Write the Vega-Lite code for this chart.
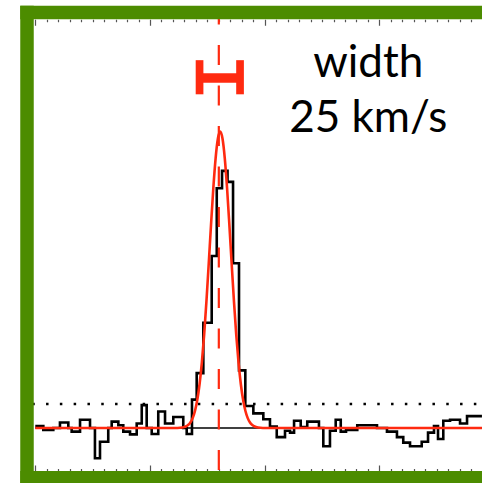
{
  "$schema": "https://vega.github.io/schema/vega-lite/v6.json",
  "width": 455,
  "height": 465.25,
  "autosize": {"type": "none"},
  "padding": {"left": 27, "top": 12.5, "right": 0, "bottom": 5.25},
  "background": "white",
  "view": {"stroke": null, "fill": "white"},
  "config": {
    "axis": {"labels": false, "title": null, "grid": false}
  },
  "datasets": {
    "spectrum": [
      {"velocity": 0.0, "flux": 0.02},
      {"velocity": 7.0, "flux": -0.02},
      {"velocity": 15.7, "flux": 0.0},
      {"velocity": 21.5, "flux": 0.06},
      {"velocity": 28.8, "flux": 0.0},
      {"velocity": 31.7, "flux": -0.04},
      {"velocity": 39.0, "flux": 0.09},
      {"velocity": 47.7, "flux": 0.0},
      {"velocity": 52.0, "flux": -0.33},
      {"velocity": 56.4, "flux": -0.15},
      {"velocity": 63.6, "flux": 0.0},
      {"velocity": 66.6, "flux": 0.07},
      {"velocity": 72.4, "flux": 0.03},
      {"velocity": 76.7, "flux": -0.04},
      {"velocity": 82.6, "flux": -0.07},
      {"velocity": 88.4, "flux": 0.05},
      {"velocity": 92.8, "flux": 0.25},
      {"velocity": 97.1, "flux": 0.0},
      {"velocity": 101.5, "flux": -0.065},
      {"velocity": 107.2, "flux": 0.18},
      {"velocity": 113.1, "flux": 0.05},
      {"velocity": 120.3, "flux": 0.12},
      {"velocity": 129.0, "flux": 0.0},
      {"velocity": 132.0, "flux": -0.065},
      {"velocity": 136.6, "flux": 0.31},
      {"velocity": 140.7, "flux": 0.6},
      {"velocity": 146.5, "flux": 1.15},
      {"velocity": 153.8, "flux": 1.88},
      {"velocity": 158.2, "flux": 2.62},
      {"velocity": 162.8, "flux": 2.81},
      {"velocity": 167.6, "flux": 2.69},
      {"velocity": 172.4, "flux": 1.8},
      {"velocity": 177.6, "flux": 0.63},
      {"velocity": 183.1, "flux": 0.24},
      {"velocity": 190.1, "flux": 0.16},
      {"velocity": 198.8, "flux": 0.095},
      {"velocity": 204.6, "flux": 0.015},
      {"velocity": 210.5, "flux": -0.1},
      {"velocity": 217.7, "flux": -0.03},
      {"velocity": 222.1, "flux": -0.05},
      {"velocity": 225.6, "flux": 0.08},
      {"velocity": 231.4, "flux": 0.01},
      {"velocity": 237.1, "flux": 0.07},
      {"velocity": 247.3, "flux": 0.0},
      {"velocity": 251.1, "flux": -0.2},
      {"velocity": 256.9, "flux": -0.03},
      {"velocity": 261.9, "flux": 0.09},
      {"velocity": 266.3, "flux": -0.04},
      {"velocity": 270.9, "flux": -0.02},
      {"velocity": 280.7, "flux": 0.03},
      {"velocity": 297.9, "flux": 0.0},
      {"velocity": 306.6, "flux": -0.04},
      {"velocity": 315.3, "flux": -0.1},
      {"velocity": 320.8, "flux": -0.16},
      {"velocity": 326.7, "flux": -0.2},
      {"velocity": 336.9, "flux": -0.15},
      {"velocity": 342.4, "flux": -0.05},
      {"velocity": 347.6, "flux": 0.02},
      {"velocity": 351.1, "flux": -0.12},
      {"velocity": 355.7, "flux": 0.08},
      {"velocity": 361.6, "flux": 0.09},
      {"velocity": 370.3, "flux": 0.05},
      {"velocity": 376.4, "flux": 0.13},
      {"velocity": 389.4, "flux": 0.13}
    ],
    "fit": [
      {"velocity": 0, "flux": 0},
      {"velocity": 124, "flux": 0},
      {"velocity": 128.2, "flux": 0.005},
      {"velocity": 131.2, "flux": 0.016},
      {"velocity": 133.2, "flux": 0.032},
      {"velocity": 135.2, "flux": 0.06},
      {"velocity": 137.2, "flux": 0.108},
      {"velocity": 139.2, "flux": 0.186},
      {"velocity": 141.2, "flux": 0.305},
      {"velocity": 143.2, "flux": 0.478},
      {"velocity": 145.2, "flux": 0.714},
      {"velocity": 147.2, "flux": 1.018},
      {"velocity": 149.2, "flux": 1.384},
      {"velocity": 151.2, "flux": 1.795},
      {"velocity": 153.2, "flux": 2.22},
      {"velocity": 155.2, "flux": 2.62},
      {"velocity": 157.2, "flux": 2.948},
      {"velocity": 159.2, "flux": 3.164},
      {"velocity": 161.2, "flux": 3.24},
      {"velocity": 163.2, "flux": 3.164},
      {"velocity": 165.2, "flux": 2.948},
      {"velocity": 167.2, "flux": 2.62},
      {"velocity": 169.2, "flux": 2.22},
      {"velocity": 171.2, "flux": 1.795},
      {"velocity": 173.2, "flux": 1.384},
      {"velocity": 175.2, "flux": 1.018},
      {"velocity": 177.2, "flux": 0.714},
      {"velocity": 179.2, "flux": 0.478},
      {"velocity": 181.2, "flux": 0.305},
      {"velocity": 183.2, "flux": 0.186},
      {"velocity": 185.2, "flux": 0.108},
      {"velocity": 187.2, "flux": 0.06},
      {"velocity": 189.2, "flux": 0.032},
      {"velocity": 191.2, "flux": 0.016},
      {"velocity": 194.2, "flux": 0.005},
      {"velocity": 198.4, "flux": 0},
      {"velocity": 389.4, "flux": 0}
    ],
    "levels": [
      {"name": "zero", "flux": 0, "start": 0, "end": 389.4}
    ],
    "threshold": [{"flux": 0.262}],
    "center": [{"velocity": 160.0}],
    "caps": [
      {"velocity": 143.2, "top": 4.02, "bottom": 3.647},
      {"velocity": 178.5, "top": 4.02, "bottom": 3.647}
    ],
    "bar": [{"lo": 143.2, "hi": 178.5, "flux": 3.825}],
    "labels": [
      {"text": "width", "velocity": 290.3, "flux": 3.839},
      {"text": "25 km/s", "velocity": 290.3, "flux": 3.238}
    ],
    "frame": [{"name": "panel"}]
  },
  "layer": [
    {
      "data": {"name": "levels"},
      "mark": {"type": "rule", "color": "black", "strokeWidth": 1.5},
      "encoding": {
        "x": {"field": "start", "type": "quantitative", "scale": {"domain": [-7.236, 389.45], "nice": false, "zero": false}, "axis": null},
        "x2": {"field": "end"},
        "y": {"field": "flux", "type": "quantitative", "scale": {"domain": [-0.5437, 4.541], "nice": false, "zero": false}, "axis": null}
      }
    },
    {
      "data": {"name": "threshold"},
      "mark": {"type": "rule", "color": "black", "strokeWidth": 2.5, "strokeDash": [2.5, 11.3], "strokeDashOffset": 8.15},
      "encoding": {
        "y": {"field": "flux", "type": "quantitative", "scale": {"domain": [-0.5437, 4.541], "nice": false, "zero": false}, "axis": null}
      }
    },
    {
      "data": {"name": "spectrum"},
      "mark": {"type": "line", "interpolate": "step-after", "color": "black", "strokeWidth": 2.6},
      "encoding": {
        "x": {
          "field": "velocity", "type": "quantitative",
          "scale": {"domain": [-7.236, 389.45], "nice": false, "zero": false},
          "axis": {
            "orient": "bottom", "offset": -6.75, "domain": false, "labels": false, "title": null,
            "values": [0,10,20,30,40,50,60,70,80,90,100,110,120,130,140,150,160,170,180,190,200,210,220,230,240,250,260,270,280,290,300,310,320,330,340,350,360,370,380],
            "tickColor": "#555", "tickWidth": 1.2,
            "tickSize": {"condition": {"test": "datum.value % 100 === 0", "value": -6}, "value": -2.5}
          }
        },
        "y": {
          "field": "flux", "type": "quantitative",
          "scale": {"domain": [-0.5437, 4.541], "nice": false, "zero": false},
          "axis": {
            "orient": "left", "offset": -7.5, "domain": true, "domainColor": "#333", "domainWidth": 1.2, "labels": false, "title": null,
            "values": [-0.5,-0.4,-0.3,-0.2,-0.1,0,0.1,0.2,0.3,0.4,0.5,0.6,0.7,0.8,0.9,1,1.1,1.2,1.3,1.4,1.5,1.6,1.7,1.8,1.9,2,2.1,2.2,2.3,2.4,2.5,2.6,2.7,2.8,2.9,3,3.1,3.2,3.3,3.4,3.5,3.6,3.7,3.8,3.9,4,4.1,4.2,4.3,4.4,4.5],
            "tickColor": "#444", "tickWidth": 1.1,
            "tickSize": {"condition": {"test": "abs(datum.value - round(datum.value)) < 0.001", "value": -10}, "value": -5}
          }
        }
      }
    },
    {
      "data": {"name": "fit"},
      "mark": {"type": "line", "interpolate": "monotone", "color": "#ff2a10", "strokeWidth": 2.6},
      "encoding": {
        "x": {
          "field": "velocity", "type": "quantitative",
          "scale": {"domain": [-7.236, 389.45], "nice": false, "zero": false},
          "axis": {
            "orient": "top", "offset": -6.75, "domain": false, "labels": false, "title": null,
            "values": [0,10,20,30,40,50,60,70,80,90,100,110,120,130,140,150,160,170,180,190,200,210,220,230,240,250,260,270,280,290,300,310,320,330,340,350,360,370,380],
            "tickColor": "#555", "tickWidth": 1.2,
            "tickSize": {"condition": {"test": "datum.value % 100 === 0", "value": -6}, "value": -2.5}
          }
        },
        "y": {"field": "flux", "type": "quantitative", "scale": {"domain": [-0.5437, 4.541], "nice": false, "zero": false}, "axis": null}
      }
    },
    {
      "data": {"name": "center"},
      "mark": {"type": "rule", "color": "#ff2a10", "strokeWidth": 2.2, "strokeDash": [20, 20.5], "strokeDashOffset": 8},
      "encoding": {
        "x": {"field": "velocity", "type": "quantitative", "scale": {"domain": [-7.236, 389.45], "nice": false, "zero": false}, "axis": null}
      }
    },
    {
      "data": {"name": "caps"},
      "mark": {"type": "rule", "color": "#ff2a10", "strokeWidth": 7.7, "strokeCap": "butt"},
      "encoding": {
        "x": {"field": "velocity", "type": "quantitative", "scale": {"domain": [-7.236, 389.45], "nice": false, "zero": false}, "axis": null},
        "y": {"field": "top", "type": "quantitative", "scale": {"domain": [-0.5437, 4.541], "nice": false, "zero": false}, "axis": null},
        "y2": {"field": "bottom"}
      }
    },
    {
      "data": {"name": "bar"},
      "mark": {"type": "rule", "color": "#ff2a10", "strokeWidth": 9.5, "strokeCap": "butt"},
      "encoding": {
        "x": {"field": "lo", "type": "quantitative", "scale": {"domain": [-7.236, 389.45], "nice": false, "zero": false}, "axis": null},
        "x2": {"field": "hi"},
        "y": {"field": "flux", "type": "quantitative", "scale": {"domain": [-0.5437, 4.541], "nice": false, "zero": false}, "axis": null}
      }
    },
    {
      "data": {"name": "labels"},
      "mark": {"type": "text", "font": "Lato", "fontSize": 44, "color": "black", "align": "center", "baseline": "alphabetic"},
      "encoding": {
        "x": {"field": "velocity", "type": "quantitative", "scale": {"domain": [-7.236, 389.45], "nice": false, "zero": false}, "axis": null},
        "y": {"field": "flux", "type": "quantitative", "scale": {"domain": [-0.5437, 4.541], "nice": false, "zero": false}, "axis": null},
        "text": {"field": "text"}
      }
    },
    {
      "data": {"name": "frame"},
      "mark": {"type": "rule", "color": "#4c8c00", "strokeWidth": 13.5, "strokeCap": "square", "clip": false},
      "encoding": {
        "y": {"datum": 4.541, "type": "quantitative", "scale": {"domain": [-0.5437, 4.541], "nice": false, "zero": false}, "axis": null}
      }
    },
    {
      "data": {"name": "frame"},
      "mark": {"type": "rule", "color": "#4c8c00", "strokeWidth": 13.5, "strokeCap": "square", "clip": false},
      "encoding": {
        "y": {"datum": -0.5437, "type": "quantitative", "scale": {"domain": [-0.5437, 4.541], "nice": false, "zero": false}, "axis": null}
      }
    },
    {
      "data": {"name": "frame"},
      "mark": {"type": "rule", "color": "#4c8c00", "strokeWidth": 13.5, "strokeCap": "square", "clip": false},
      "encoding": {
        "x": {"datum": -7.236, "type": "quantitative", "scale": {"domain": [-7.236, 389.45], "nice": false, "zero": false}, "axis": null}
      }
    }
  ],
  "resolve": {"axis": {"x": "independent"}}
}
